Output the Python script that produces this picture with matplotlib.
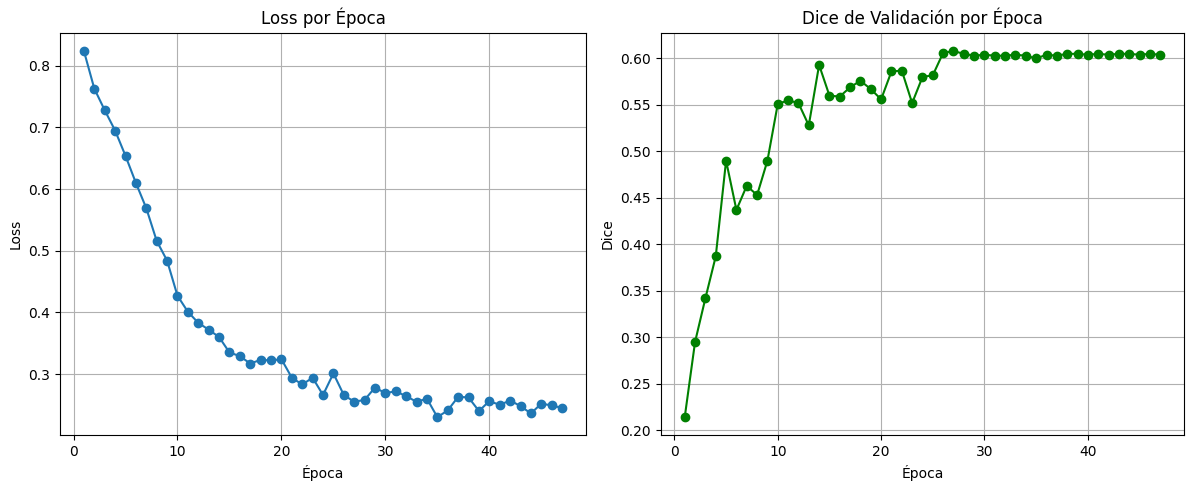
import numpy as np
from matplotlib import pyplot as plt

epochs = list(range(1, 48))

loss = [0.824, 0.763, 0.728, 0.695, 0.654, 0.610, 0.569, 0.516, 0.484, 0.427,
        0.401, 0.383, 0.372, 0.360, 0.335, 0.329, 0.317, 0.323, 0.322, 0.324,
        0.294, 0.283, 0.294, 0.266, 0.301, 0.266, 0.255, 0.258, 0.278, 0.269,
        0.272, 0.264, 0.255, 0.260, 0.230, 0.241, 0.263, 0.262, 0.240, 0.256,
        0.250, 0.257, 0.248, 0.236, 0.252, 0.249, 0.245]

dice = [0.214, 0.295, 0.342, 0.387, 0.490, 0.437, 0.463, 0.453, 0.490, 0.551,
        0.555, 0.552, 0.528, 0.593, 0.560, 0.559, 0.569, 0.576, 0.567, 0.556,
        0.586, 0.587, 0.552, 0.580, 0.582, 0.606, 0.608, 0.605, 0.603, 0.604,
        0.603, 0.603, 0.604, 0.603, 0.600, 0.604, 0.603, 0.605, 0.605, 0.604,
        0.605, 0.604, 0.605, 0.605, 0.604, 0.605, 0.604]

fig = plt.figure(figsize=(11.86, 4.87), dpi=100)

ax1 = fig.add_axes([0.0506, 0.1058, 0.4435, 0.8270])
ax1.plot(epochs, loss, marker='o')
ax1.set_title('Loss por Época')
ax1.set_xlabel('Época')
ax1.set_ylabel('Loss')
ax1.grid(True)

ax2 = fig.add_axes([0.5573, 0.1058, 0.4410, 0.8270])
ax2.plot(epochs, dice, marker='o', color='green')
ax2.set_title('Dice de Validación por Época')
ax2.set_xlabel('Época')
ax2.set_ylabel('Dice')
ax2.grid(True)

plt.savefig('out.png')
